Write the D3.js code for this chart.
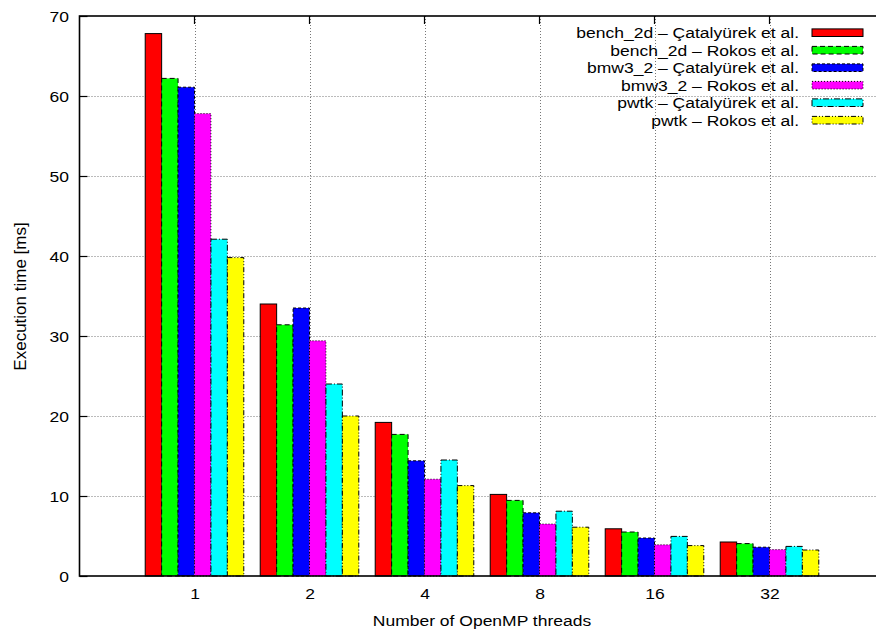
<!DOCTYPE html>
<html>
<head>
<meta charset="utf-8">
<script src="https://cdn.jsdelivr.net/npm/d3@7"></script>
<style>
  html, body { margin: 0; padding: 0; background: #fff; }
  svg { display: block; overflow: hidden; }
  text { font-family: "Liberation Sans", Arial, Helvetica, sans-serif; fill: #000; }
</style>
</head>
<body>
<svg id="chart" width="876" height="633"></svg>
<script>
// Thread counts (x categories)
const threads = ["1", "2", "4", "8", "16", "32"];

// Series names, as shown in the key
const seriesNames = [
  "bench_2d – Çatalyürek et al.",
  "bench_2d – Rokos et al.",
  "bmw3_2 – Çatalyürek et al.",
  "bmw3_2 – Rokos et al.",
  "pwtk – Çatalyürek et al.",
  "pwtk – Rokos et al."
];

// Execution time [ms] per series, one value per thread count
const bench2dCatalyurek = [67.8, 34.0, 19.2, 10.2, 5.9, 4.25];
const bench2dRokos      = [62.2, 31.4, 17.7, 9.45, 5.5, 4.05];
const bmw32Catalyurek   = [61.1, 33.5, 14.4, 7.9, 4.75, 3.6];
const bmw32Rokos        = [57.8, 29.4, 12.1, 6.5, 3.9, 3.3];
const pwtkCatalyurek    = [42.1, 24.0, 14.5, 8.1, 4.95, 3.7];
const pwtkRokos         = [39.8, 20.0, 11.3, 6.1, 3.8, 3.25];

// Y axis ticks
const yTicks = [0, 10, 20, 30, 40, 50, 60, 70];

const seriesValues = [bench2dCatalyurek, bench2dRokos, bmw32Catalyurek, bmw32Rokos, pwtkCatalyurek, pwtkRokos];
const fills = ["#ff0000", "#00ff00", "#0000ff", "#ff00ff", "#00ffff", "#ffff00"];
const dashes = ["none", "5,3", "3,2", "1,2", "6,2,1,2", "5,2,1,2,1,2"];
// Text is set slightly wide: a 15.5px face stretched horizontally
const fontSize = 15.5;
const stretch = 1.13;

const svg = d3.select("#chart");
const margin = { left: 79.5, top: 16, bottom: 576 };
const plotRight = 884.5;

// Histogram layout: groups at 1..6 on a 0..7 axis, six bars plus one gap per group
const x = d3.scaleLinear().domain([0, threads.length + 1]).range([margin.left, plotRight]);
const y = d3.scaleLinear().domain([0, 70]).range([margin.bottom, margin.top]);
const groupHalf = 3 / 7;
const inner = d3.scaleBand()
  .domain(d3.range(seriesNames.length))
  .range([x(-groupHalf) - x(0), x(groupHalf) - x(0)]);

// Place a wide text with its anchor at (px, py)
function wideText(sel, px, py) {
  sel.attr("x", 0).attr("y", 0)
    .attr("font-size", fontSize)
    .attr("transform", `translate(${px},${py}) scale(${stretch},1)`);
  return sel;
}

// Grid
const grid = svg.append("g").attr("stroke", "#777").attr("stroke-width", 1).attr("stroke-dasharray", "1,2");
grid.selectAll("line.gy").data(yTicks.filter(t => t > 0 && t < 70)).join("line")
  .attr("x1", margin.left).attr("x2", plotRight)
  .attr("y1", d => Math.round(y(d)) + 0.5).attr("y2", d => Math.round(y(d)) + 0.5);
grid.selectAll("line.gx").data(threads).join("line")
  .attr("x1", (d, i) => Math.round(x(i + 1)) + 0.5).attr("x2", (d, i) => Math.round(x(i + 1)) + 0.5)
  .attr("y1", margin.top).attr("y2", margin.bottom);

// Bars
const bars = svg.append("g");
seriesValues.forEach((vals, s) => {
  bars.append("g")
    .selectAll("rect").data(vals).join("rect")
    .attr("x", (d, i) => x(i + 1) + inner(s))
    .attr("y", d => y(d))
    .attr("width", inner.bandwidth())
    .attr("height", d => y(0) - y(d))
    .attr("fill", fills[s])
    .attr("stroke", "#000")
    .attr("stroke-width", 1)
    .attr("stroke-dasharray", dashes[s]);
});

// Axes (frame with inward ticks)
const yAxis = d3.axisLeft(y).tickValues(yTicks).tickSize(-8).tickPadding(10.5).tickFormat(d3.format("d"));
const gy = svg.append("g").attr("transform", `translate(${margin.left},0)`).call(yAxis);
gy.select(".domain").remove();
gy.selectAll("text").attr("dy", null)
  .attr("font-family", "Liberation Sans, Arial, sans-serif")
  .each(function () { wideText(d3.select(this), -10.5, 5.5); });
gy.selectAll("line").attr("stroke-width", 1.2);

const xAxis = d3.axisBottom(x).tickValues(d3.range(1, threads.length + 1))
  .tickFormat(d => threads[d - 1]).tickSize(0);
const gx = svg.append("g").attr("transform", `translate(0,${margin.bottom})`).call(xAxis);
gx.select(".domain").remove();
gx.selectAll("text").attr("dy", null)
  .attr("font-family", "Liberation Sans, Arial, sans-serif")
  .each(function () { wideText(d3.select(this), 0, 23); });

// Top mirrored x ticks
svg.append("g").selectAll("line").data(threads).join("line")
  .attr("x1", (d, i) => x(i + 1)).attr("x2", (d, i) => x(i + 1))
  .attr("y1", margin.top).attr("y2", margin.top + 8)
  .attr("stroke", "#000").attr("stroke-width", 1.2);

// Frame
svg.append("rect")
  .attr("x", margin.left).attr("y", margin.top)
  .attr("width", plotRight - margin.left).attr("height", margin.bottom - margin.top)
  .attr("fill", "none").attr("stroke", "#000").attr("stroke-width", 1.6);

// Axis titles
wideText(svg.append("text"), x(3.5), 626)
  .attr("text-anchor", "middle")
  .text("Number of OpenMP threads");
svg.append("text")
  .attr("transform", `translate(25.5,${(margin.top + margin.bottom) / 2 + 0.5}) rotate(-90)`)
  .attr("text-anchor", "middle").attr("font-size", 17)
  .text("Execution time [ms]");

// Key
const key = svg.append("g");
const keyRows = key.selectAll("g").data(seriesNames).join("g")
  .attr("transform", (d, i) => `translate(0,${32.7 + i * 17.5})`);
keyRows.append("text")
  .attr("text-anchor", "end")
  .each(function () { wideText(d3.select(this), 799, 5.6); })
  .text(d => d);
keyRows.append("rect")
  .attr("x", 812).attr("y", -3.8)
  .attr("width", 51).attr("height", 7.6)
  .attr("fill", (d, i) => fills[i])
  .attr("stroke", "#000").attr("stroke-width", 1)
  .attr("stroke-dasharray", (d, i) => dashes[i]);
</script>
</body>
</html>
